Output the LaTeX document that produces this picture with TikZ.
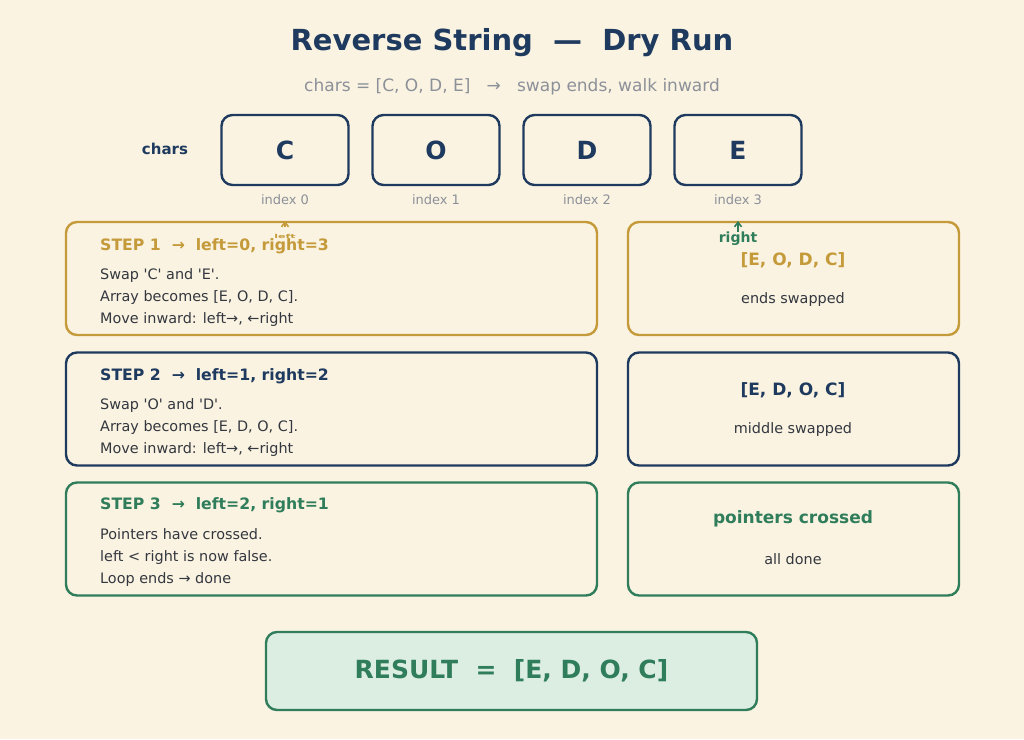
\documentclass[tikz,border=0pt]{standalone}
\usepackage{fontspec}
\setmainfont{DejaVu Sans}
\usetikzlibrary{arrows.meta,positioning}
\definecolor{paper}{HTML}{FAF3E1}
\definecolor{navy}{HTML}{1F3A5F}
\definecolor{gold}{HTML}{C49A3A}
\definecolor{leaf}{HTML}{2F7D5A}
\definecolor{mint}{HTML}{DCEDE2}
\definecolor{ink}{HTML}{33373F}
\definecolor{muted}{HTML}{8C9099}
\newcommand{\fsz}[1]{\fontsize{#1}{#1}\selectfont}
\newcommand{\q}{\textquotesingle}
\tikzset{
  sketch/.style={draw, line width=2.4pt, rounded corners=11pt},
  cellbox/.style={sketch, draw=navy, minimum width=127pt, minimum height=70pt,
    font=\fsz{25}\bfseries, text=navy},
  stepbox/.style={sketch, minimum width=531pt, minimum height=113pt},
  notebox/.style={sketch, minimum width=331pt, minimum height=113pt},
  idxlabel/.style={font=\fsz{13}, text=muted},
  steptitle/.style={anchor=west, inner sep=0pt, font=\fsz{15.7}\bfseries},
  steptext/.style={anchor=north west, inner sep=0pt, align=left, text=ink,
    font=\fontsize{14.4}{22}\selectfont},
  notehead/.style={font=\fsz{17}\bfseries},
  notetext/.style={font=\fsz{14.4}, text=ink},
  caret/.style={-{Straight Barb[length=4.5pt,width=7pt]}, line width=1.6pt}
}
\begin{document}
\begin{tikzpicture}[x=1pt, y=-1pt]
\fill[paper] (0,0) rectangle (1024,739);
\useasboundingbox (0,0) rectangle (1024,739);

% heading
\node[font=\fsz{29}\bfseries, text=navy] (title) at (512,43) {Reverse String \ — \ Dry Run};
\node[font=\fsz{17}, text=muted] (subtitle) at (512,87) {chars = [C, O, D, E] \ \ → \ \ swap ends, walk inward};

% the array
\node[font=\fsz{15}\bfseries, text=navy] (charslbl) at (165,149) {chars};
\node[cellbox] (cellC) at (285,150) {C};
\node[cellbox] (cellO) at (436,150) {O};
\node[cellbox] (cellD) at (587,150) {D};
\node[cellbox] (cellE) at (738,150) {E};
\node[idxlabel] (idx0) at (285,200) {index 0};
\node[idxlabel] (idx1) at (436,200) {index 1};
\node[idxlabel] (idx2) at (587,200) {index 2};
\node[idxlabel] (idx3) at (738,200) {index 3};

% step 1
\node[stepbox, draw=gold] (step1) at (331.5,278.5) {};
\node[notebox, draw=gold] (note1) at (793.5,278.5) {};
\node[steptitle, text=gold] (title1) at (100,246) {STEP 1 \ → \ left=0, right=3};
\node[steptext] (text1) at (100,268) {Swap \q C\q{} and \q E\q.\\Array becomes [E, O, D, C].\\Move inward: left→, ←right};
\node[notehead, text=gold] (head1) at (793,260) {[E, O, D, C]};
\node[notetext] (foot1) at (793,300) {ends swapped};

% step 2
\node[stepbox, draw=navy] (step2) at (331.5,409) {};
\node[notebox, draw=navy] (note2) at (793.5,409) {};
\node[steptitle, text=navy] (title2) at (100,376) {STEP 2 \ → \ left=1, right=2};
\node[steptext] (text2) at (100,398) {Swap \q O\q{} and \q D\q.\\Array becomes [E, D, O, C].\\Move inward: left→, ←right};
\node[notehead, text=navy] (head2) at (793,390) {[E, D, O, C]};
\node[notetext] (foot2) at (793,430) {middle swapped};

% step 3
\node[stepbox, draw=leaf] (step3) at (331.5,539) {};
\node[notebox, draw=leaf] (note3) at (793.5,539) {};
\node[steptitle, text=leaf] (title3) at (100,505) {STEP 3 \ → \ left=2, right=1};
\node[steptext] (text3) at (100,528) {Pointers have crossed.\\left < right is now false.\\Loop ends → done};
\node[notehead, text=leaf] (head3) at (793,519) {pointers crossed};
\node[notetext] (foot3) at (793,559) {all done};

% pointers
\node[font=\fsz{11}\bfseries, text=gold, yscale=0.5, inner sep=0pt] (leftptr) at (285,236) {left};
\coordinate (leftBase) at (285,227);
\coordinate (leftTip) at (285,221);
\draw[caret, gold] (leftBase) -- (leftTip);
\node[font=\fsz{14}\bfseries, text=leaf, inner sep=0pt] (rightptr) at (738,239) {right};
\coordinate (rightTip) at (738,221);
\draw[caret, leaf] (rightptr.north) -- (rightTip);

% result
\node[sketch, draw=leaf, fill=mint, minimum width=491pt, minimum height=78pt,
  font=\fsz{25}\bfseries, text=leaf] (result) at (511.5,671) {RESULT \ = \ [E, D, O, C]};
\end{tikzpicture}
\end{document}
